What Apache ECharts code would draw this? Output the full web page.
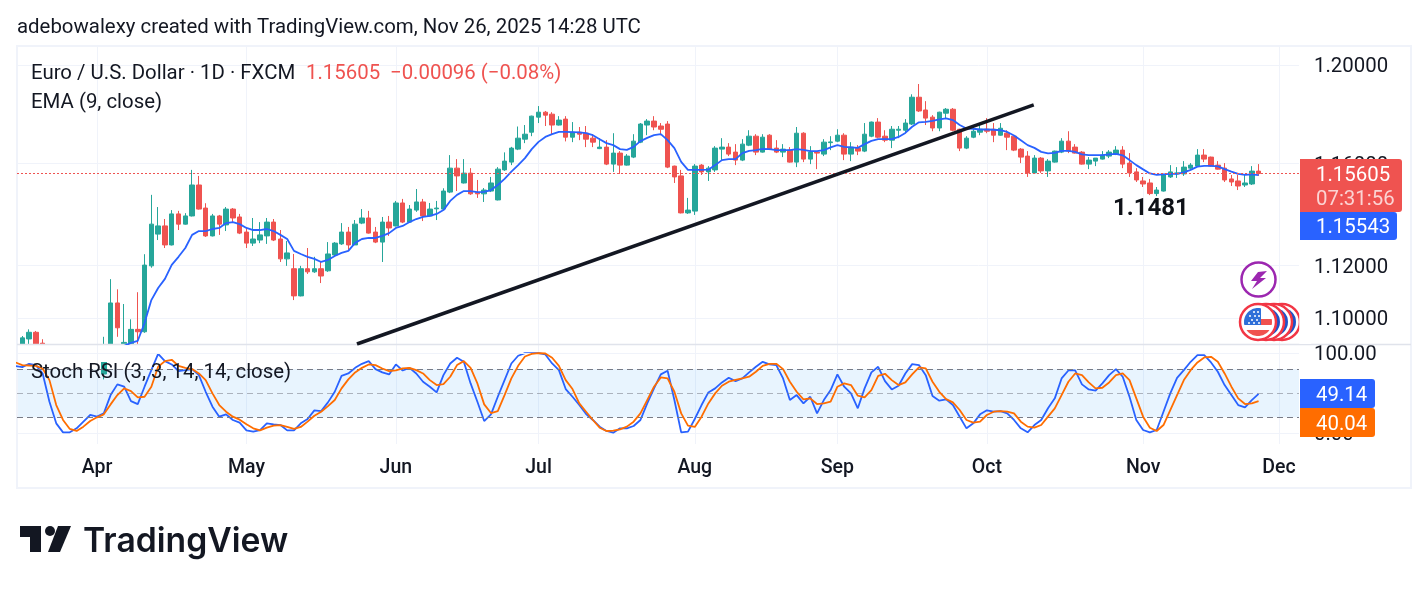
<!DOCTYPE html>
<html>
<head>
<meta charset="utf-8">
<title>EUR/USD daily</title>
<script src="https://cdn.jsdelivr.net/npm/echarts@6/dist/echarts.min.js"></script>
<style>
html,body{margin:0;padding:0;background:#fff}
#chart{width:1428px;height:591px}
</style>
</head>
<body>
<div id="chart"></div>
<script>
// Bar numbering: session 0 is 1 Apr 2025, sessions count weekdays.
const firstBar = -11;
const monthBars = [0, 22, 44, 65, 88, 109, 131, 154, 174];
const monthNames = ['Apr', 'May', 'Jun', 'Jul', 'Aug', 'Sep', 'Oct', 'Nov', 'Dec'];
const priceTicks = [1.1, 1.12, 1.16, 1.2];
const stochTicks = [0, 100];

// Daily sessions as [open, close, low, high].
const ohlc = [
[1.0880,1.0925,1.0870,1.0932],[1.0921,1.0946,1.0880,1.0957],[1.0946,1.0880,1.0872,1.0951],[1.0905,1.0895,1.0880,1.0920],
[1.0880,1.0825,1.0805,1.0890],[1.0825,1.0790,1.0775,1.0860],[1.0790,1.0800,1.0770,1.0810],[1.0800,1.0750,1.0740,1.0805],
[1.0750,1.0790,1.0735,1.0800],[1.0790,1.0825,1.0780,1.0830],[1.0825,1.0815,1.0790,1.0850],[1.0815,1.0790,1.0780,1.0880],
[1.0790,1.0850,1.0770,1.0929],[1.0851,1.1057,1.0842,1.1148],[1.1057,1.0963,1.0929,1.1109],[1.0880,1.0908,1.0842,1.1053],
[1.0898,1.0957,1.0880,1.0995],[1.0957,1.0948,1.0898,1.1098],[1.0948,1.1202,1.0944,1.1244],[1.1199,1.1361,1.1192,1.1476],
[1.1322,1.1354,1.1299,1.1428],[1.1354,1.1280,1.1268,1.1381],[1.1280,1.1401,1.1278,1.1416],[1.1401,1.1361,1.1338,1.1413],
[1.1361,1.1393,1.1359,1.1404],[1.1393,1.1515,1.1391,1.1575],[1.1515,1.1420,1.1418,1.1551],[1.1424,1.1315,1.1311,1.1443],
[1.1315,1.1393,1.1313,1.1401],[1.1393,1.1361,1.1319,1.1397],[1.1358,1.1420,1.1334,1.1428],[1.1420,1.1385,1.1369,1.1424],
[1.1389,1.1326,1.1322,1.1401],[1.1330,1.1287,1.1268,1.1346],[1.1287,1.1303,1.1276,1.1385],[1.1299,1.1319,1.1287,1.1369],
[1.1315,1.1369,1.1284,1.1385],[1.1369,1.1299,1.1295,1.1381],[1.1303,1.1226,1.1214,1.1338],[1.1226,1.1249,1.1199,1.1295],
[1.1188,1.1084,1.1068,1.1245],[1.1084,1.1188,1.1082,1.1199],[1.1188,1.1176,1.1168,1.1268],[1.1176,1.1188,1.1172,1.1234],
[1.1188,1.1160,1.1133,1.1218],[1.1180,1.1245,1.1176,1.1291],[1.1241,1.1287,1.1237,1.1291],[1.1284,1.1330,1.1280,1.1365],
[1.1330,1.1280,1.1261,1.1350],[1.1280,1.1361,1.1280,1.1377],[1.1365,1.1385,1.1361,1.1420],[1.1385,1.1326,1.1324,1.1413],
[1.1330,1.1291,1.1287,1.1350],[1.1291,1.1369,1.1214,1.1389],[1.1369,1.1346,1.1315,1.1393],[1.1354,1.1444,1.1352,1.1452],
[1.1444,1.1369,1.1365,1.1460],[1.1369,1.1420,1.1367,1.1436],[1.1416,1.1448,1.1409,1.1499],[1.1448,1.1393,1.1373,1.1460],
[1.1393,1.1420,1.1391,1.1444],[1.1421,1.1424,1.1377,1.1452],[1.1420,1.1491,1.1416,1.1502],[1.1487,1.1582,1.1483,1.1634],
[1.1582,1.1551,1.1491,1.1618],[1.1523,1.1562,1.1521,1.1618],[1.1562,1.1480,1.1476,1.1582],[1.1485,1.1480,1.1464,1.1535],
[1.1480,1.1495,1.1448,1.1503],[1.1491,1.1523,1.1487,1.1547],[1.1456,1.1578,1.1454,1.1586],[1.1575,1.1610,1.1571,1.1645],
[1.1606,1.1662,1.1594,1.1667],[1.1658,1.1702,1.1654,1.1749],[1.1698,1.1718,1.1682,1.1755],[1.1726,1.1791,1.1710,1.1793],
[1.1787,1.1807,1.1763,1.1832],[1.1807,1.1795,1.1751,1.1812],[1.1799,1.1755,1.1718,1.1807],[1.1755,1.1775,1.1753,1.1791],
[1.1779,1.1706,1.1689,1.1791],[1.1706,1.1726,1.1686,1.1767],[1.1726,1.1718,1.1694,1.1747],[1.1722,1.1698,1.1666,1.1751],
[1.1702,1.1686,1.1666,1.1718],[1.1660,1.1666,1.1658,1.1702],[1.1666,1.1598,1.1594,1.1694],[1.1598,1.1642,1.1567,1.1722],
[1.1642,1.1594,1.1559,1.1650],[1.1594,1.1630,1.1592,1.1638],[1.1626,1.1690,1.1622,1.1718],[1.1686,1.1759,1.1682,1.1763],
[1.1755,1.1771,1.1714,1.1779],[1.1771,1.1747,1.1734,1.1791],[1.1751,1.1738,1.1714,1.1763],[1.1759,1.1586,1.1582,1.1771],
[1.1590,1.1547,1.1523,1.1592],[1.1551,1.1405,1.1403,1.1575],[1.1405,1.1416,1.1401,1.1464],[1.1412,1.1590,1.1397,1.1598],
[1.1594,1.1567,1.1555,1.1598],[1.1567,1.1582,1.1531,1.1590],[1.1575,1.1662,1.1567,1.1670],[1.1658,1.1666,1.1614,1.1702],
[1.1666,1.1638,1.1630,1.1682],[1.1646,1.1614,1.1594,1.1678],[1.1614,1.1678,1.1610,1.1698],[1.1674,1.1710,1.1670,1.1734],
[1.1710,1.1646,1.1634,1.1718],[1.1646,1.1706,1.1644,1.1718],[1.1714,1.1658,1.1654,1.1718],[1.1662,1.1646,1.1642,1.1694],
[1.1646,1.1658,1.1626,1.1678],[1.1654,1.1606,1.1604,1.1666],[1.1606,1.1722,1.1586,1.1747],[1.1722,1.1618,1.1606,1.1726],
[1.1618,1.1646,1.1598,1.1670],[1.1646,1.1642,1.1578,1.1648],[1.1638,1.1686,1.1630,1.1698],[1.1684,1.1687,1.1654,1.1710],
[1.1690,1.1714,1.1686,1.1738],[1.1714,1.1638,1.1614,1.1722],[1.1638,1.1666,1.1610,1.1686],[1.1662,1.1650,1.1634,1.1674],
[1.1650,1.1718,1.1646,1.1763],[1.1710,1.1767,1.1706,1.1769],[1.1767,1.1706,1.1702,1.1783],[1.1710,1.1694,1.1686,1.1734],
[1.1694,1.1738,1.1662,1.1751],[1.1734,1.1738,1.1702,1.1751],[1.1734,1.1763,1.1726,1.1779],[1.1759,1.1868,1.1755,1.1880],
[1.1868,1.1812,1.1808,1.1922],[1.1816,1.1783,1.1755,1.1852],[1.1787,1.1743,1.1730,1.1795],[1.1743,1.1807,1.1730,1.1809],
[1.1803,1.1819,1.1783,1.1824],[1.1819,1.1734,1.1730,1.1824],[1.1738,1.1662,1.1650,1.1740],[1.1662,1.1702,1.1658,1.1710],
[1.1706,1.1730,1.1702,1.1755],[1.1726,1.1738,1.1714,1.1755],[1.1738,1.1730,1.1722,1.1783],[1.1738,1.1714,1.1686,1.1763],
[1.1714,1.1742,1.1712,1.1763],[1.1722,1.1706,1.1654,1.1734],[1.1710,1.1654,1.1650,1.1714],[1.1658,1.1626,1.1602,1.1662],
[1.1630,1.1563,1.1547,1.1650],[1.1563,1.1622,1.1559,1.1634],[1.1622,1.1571,1.1563,1.1626],[1.1571,1.1610,1.1547,1.1618],
[1.1606,1.1650,1.1604,1.1652],[1.1646,1.1690,1.1642,1.1702],[1.1690,1.1650,1.1642,1.1730],[1.1666,1.1642,1.1640,1.1678],
[1.1646,1.1598,1.1596,1.1650],[1.1598,1.1614,1.1578,1.1626],[1.1610,1.1622,1.1590,1.1622],[1.1618,1.1634,1.1616,1.1650],
[1.1630,1.1646,1.1622,1.1654],[1.1638,1.1654,1.1634,1.1670],[1.1654,1.1598,1.1582,1.1670],[1.1602,1.1563,1.1547,1.1642],
[1.1567,1.1535,1.1527,1.1582],[1.1531,1.1519,1.1507,1.1547],[1.1523,1.1481,1.1475,1.1539],[1.1481,1.1495,1.1471,1.1507],
[1.1491,1.1555,1.1489,1.1559],[1.1547,1.1567,1.1543,1.1594],[1.1559,1.1563,1.1543,1.1586],[1.1559,1.1586,1.1551,1.1610],
[1.1582,1.1594,1.1575,1.1602],[1.1590,1.1634,1.1588,1.1658],[1.1634,1.1618,1.1606,1.1658],[1.1626,1.1590,1.1588,1.1628],
[1.1594,1.1578,1.1576,1.1610],[1.1582,1.1535,1.1527,1.1602],[1.1539,1.1527,1.1511,1.1555],[1.1531,1.1511,1.1495,1.1555],
[1.1515,1.1523,1.1507,1.1555],[1.1519,1.15701,1.1515,1.1590],[1.15701,1.15605,1.1551,1.1598]
];

// 9-period EMA of the close, first plotted at session 4.
const emaFirstBar = 4;
const ema = [
1.0895,1.0906,1.0914,1.0981,1.1068,1.1114,1.1149,1.1203,1.1234,1.1268,1.1319,1.1334,1.1334,1.1342,1.1346,1.1365,
1.1369,1.1361,1.1346,1.1338,1.1338,1.1342,1.1334,1.1319,1.1303,1.1257,1.1245,1.1234,1.1226,1.1214,1.1222,1.1237,
1.1249,1.1257,1.1288,1.1303,1.1307,1.1307,1.1315,1.1326,1.1346,1.1354,1.1369,1.1381,1.1389,1.1393,1.1401,1.1416,
1.1452,1.1476,1.1491,1.1491,1.1487,1.1488,1.1495,1.1515,1.1539,1.1568,1.1594,1.1622,1.1658,1.1687,1.1707,1.1718,
1.1727,1.1727,1.1726,1.1725,1.1722,1.1714,1.1698,1.1682,1.1674,1.1658,1.1655,1.1667,1.1690,1.1703,1.1714,1.1718,
1.1694,1.1662,1.1607,1.1575,1.1575,1.1575,1.1576,1.1594,1.1614,1.1618,1.1618,1.1642,1.1651,1.1654,1.1659,1.1658,
1.1654,1.1654,1.1654,1.1658,1.1655,1.1650,1.1650,1.1654,1.1665,1.1674,1.1667,1.1665,1.1663,1.1678,1.1691,1.1698,
1.1698,1.1698,1.1707,1.1723,1.1748,1.1766,1.1768,1.1772,1.1778,1.1782,1.1775,1.1755,1.1741,1.1740,1.1737,1.1737,
1.1736,1.1734,1.1727,1.1713,1.1694,1.1674,1.1663,1.1647,1.1641,1.1643,1.1651,1.1651,1.1647,1.1637,1.1634,1.1634,
1.1634,1.1637,1.1639,1.1633,1.1614,1.1594,1.1577,1.1561,1.1555,1.1557,1.1559,1.1559,1.1565,1.1575,1.1588,1.1591,
1.1591,1.1589,1.1578,1.1568,1.1559,1.1555,1.1557,1.15543
];

// Stochastic RSI (3, 3, 14, 14), starting one session before the first candle.
const stochFirstBar = -12;
const stochK = [
83.7,82.5,86.6,85.0,74.6,39.4,12.5,1.3,1.3,6.3,14.6,22.9,20.8,24.9,47.7,61.0,58.1,40.2,36.5,58.1,78.7,99.0,89.9,85.8,
77.5,78.7,80.0,72.5,51.8,33.2,20.8,23.7,16.7,13.3,3.8,2.2,4.2,12.5,11.3,10.4,3.8,3.8,12.5,17.9,28.7,27.8,38.6,51.8,
71.7,74.6,81.6,86.6,89.9,80.0,75.9,73.4,85.8,78.3,81.6,74.6,64.3,58.1,51.0,72.5,87.0,94.1,89.1,62.2,39.4,15.4,23.7,45.6,
66.3,87.0,96.6,99.9,100,100,98.2,87.0,78.7,55.2,45.6,35.3,24.1,16.7,8.4,3.0,0.9,6.3,6.3,9.2,16.7,37.3,56.0,73.4,
77.9,41.5,1.3,2.2,17.9,35.3,51.0,56.0,63.4,69.2,65.1,68.4,75.9,82.9,89.1,85.8,85.0,68.4,41.5,47.7,37.3,45.6,24.9,41.5,
53.9,73.4,58.1,49.8,31.2,56.0,75.9,82.9,65.1,54.7,59.3,74.6,86.2,85.0,72.5,46.5,40.7,42.3,35.3,20.8,6.3,12.5,23.7,28.7,
27.0,27.8,24.9,16.7,6.3,1.3,10.4,16.7,31.2,43.6,68.4,78.3,78.3,61.0,54.7,53.1,62.2,72.5,80.0,70.5,45.6,16.7,4.2,1.3,
4.2,27.0,49.8,69.2,78.7,89.1,97.4,97.4,88.3,76.7,60.1,47.7,35.3,32.4,41.5,49.14
];
const stochD = [
88.3,85.0,84.5,84.1,80.8,66.3,35.3,16.7,5.5,3.0,8.4,15.4,20.0,23.7,36.1,47.7,56.0,52.7,44.8,45.6,58.1,82.9,89.9,91.6,
84.1,81.6,80.0,74.6,66.3,49.8,35.3,27.0,20.8,17.1,11.3,6.3,3.8,7.1,9.6,10.4,8.0,5.5,8.0,14.6,22.0,27.0,34.0,41.5,
56.0,67.2,75.9,81.6,85.8,85.0,80.8,77.5,78.3,80.8,81.6,78.7,74.6,66.3,60.1,61.4,70.5,85.0,89.9,81.6,62.2,36.1,25.3,27.8,
47.7,68.4,84.1,95.7,99.0,100,99.4,94.1,84.1,66.3,55.2,37.3,27.0,16.7,7.1,3.0,3.4,5.1,8.4,14.6,24.9,41.5,58.1,69.6,
68.4,51.8,24.9,9.6,8.0,20.8,37.3,49.8,59.3,64.3,66.7,68.4,70.5,76.7,84.1,86.6,86.6,80.0,64.3,51.8,42.3,43.6,36.5,37.3,
39.4,58.1,62.2,60.1,46.9,44.8,53.9,71.7,74.2,66.3,60.1,63.4,73.4,82.1,80.8,64.3,51.8,42.7,38.6,29.1,16.7,13.3,14.6,22.9,
27.0,27.8,27.0,24.9,14.6,8.4,7.1,10.4,20.8,31.2,47.7,64.3,74.6,72.5,63.4,56.0,56.8,63.4,72.5,74.6,66.3,43.6,20.8,7.1,
3.0,10.4,29.1,47.7,66.3,78.7,88.3,94.5,95.3,89.1,74.6,58.1,43.6,36.5,37.3,40.04
];

// Hand-drawn rising support line, as [session, price].
const trendLine = [[38.27, 1.0902], [137.9, 1.1837]];

const UP = '#26a69a', DOWN = '#ef5350', INK = '#131722', GRID = '#f0f3fa';
const BLUE = '#2962ff', ORANGE = '#ff6d00';
const FONT = 'Roboto, sans-serif';
const TEXT = '20.4px ' + FONT;

const indexed = (values, first) => values.map((v, k) => [first + k, v]);

const chart = echarts.init(document.getElementById('chart'), null, { renderer: 'canvas' });

const xCommon = {
  type: 'value', min: -11.777, max: 176.95,
  axisLine: { show: false },
  axisTick: { show: false, customValues: monthBars },
  splitLine: { show: true, lineStyle: { color: GRID, width: 1 } }
};
const yLabel = {
  show: true, margin: 15, align: 'left',
  rich: { v: { color: INK, fontFamily: FONT, fontSize: 20.4, padding: [4, 0, 0, 0] } }
};

function txt(x, y, text, fill, font) {
  return { type: 'text', z: 100, silent: true,
    style: { x, y, text, fill, font, verticalAlign: 'middle', align: 'left' } };
}
function box(x, y, w, h, fill, r, z) {
  return { type: 'rect', z: z || 99, silent: true, shape: { x, y, width: w, height: h, r: r || 0 }, style: { fill } };
}
function badge(cx, z) {
  return [
    { type: 'circle', z, silent: true, shape: { cx, cy: 322, r: 18 }, style: { fill: '#fff', stroke: '#f23645', lineWidth: 2.5 } },
    { type: 'circle', z, silent: true, shape: { cx, cy: 322, r: 14 }, style: { fill: '#1e53c8' } }
  ];
}
// Part of the flag disc that falls inside a rectangle.
function discPart(cx, cy, r, x0, x1, y0, y1, fill, z) {
  const points = [];
  for (let a = 0; a < 72; a++) {
    const t = a * Math.PI / 36;
    points.push([
      Math.min(x1, Math.max(x0, cx + r * Math.cos(t))),
      Math.min(y1, Math.max(y0, cy + r * Math.sin(t)))
    ]);
  }
  return { type: 'polygon', z, silent: true, shape: { points }, style: { fill } };
}
function star(cx, cy) {
  return { type: 'circle', z: 95, silent: true, shape: { cx, cy, r: 1 }, style: { fill: '#fff' } };
}

const ui = [
  txt(17, 28, 'adebowalexy created with TradingView.com, Nov 26, 2025 14:28 UTC', INK, TEXT),
  txt(31, 74, 'Euro / U.S. Dollar · 1D · FXCM', INK, TEXT),
  txt(306, 74, '1.15605', DOWN, TEXT),
  txt(390, 74, '−0.00096 (−0.08%)', DOWN, TEXT),
  txt(31, 103, 'EMA (9, close)', INK, TEXT),
  txt(31, 373, 'Stoch RSI (3, 3, 14, 14, close)', INK, TEXT),
  txt(1113, 209, '1.1481', '#0f1218', '700 24px ' + FONT),

  // Sessions below the price range end at the pane edge
  box(18, 345, 32, 13, '#fff', 0, 3.5),
  box(100, 345, 42, 17, '#fff', 0, 3.5),

  // Panel frame and pane separator
  { type: 'rect', z: 3.6, silent: true, shape: { x: 17, y: 46, width: 1394, height: 442 }, style: { fill: 'none', stroke: '#f0f3fa', lineWidth: 2 } },
  { type: 'line', z: 3.6, silent: true, shape: { x1: 17, y1: 344.5, x2: 1411, y2: 344.5 }, style: { stroke: '#e0e3eb', lineWidth: 1.5 } },

  // Events badge
  { type: 'circle', z: 90, silent: true, shape: { cx: 1258.5, cy: 279.5, r: 17 }, style: { fill: '#fff', stroke: '#9c27b0', lineWidth: 2.5 } },
  { type: 'polygon', z: 91, silent: true, shape: { points: [[1267, 271], [1258, 272], [1251, 281], [1257, 281], [1252, 289], [1266, 278], [1260, 278]] }, style: { fill: '#9c27b0' } },

  // Currency event badges, back to front
  ...badge(1282, 90), ...badge(1274, 91), ...badge(1266, 92),
  { type: 'circle', z: 93, silent: true, shape: { cx: 1258, cy: 322, r: 18 }, style: { fill: '#fff', stroke: '#f23645', lineWidth: 2.5 } },
  discPart(1258, 322, 14, 1240, 1261, 300, 325, '#2e6fd8', 94),
  discPart(1258, 322, 14, 1261, 1280, 319, 325, '#f0524f', 94),
  discPart(1258, 322, 14, 1240, 1280, 330, 345, '#f0524f', 94),
  star(1250, 316), star(1255, 316), star(1259, 316), star(1252, 320), star(1257, 320),
  star(1249, 323), star(1254, 323), star(1259, 323), star(1254, 312), star(1258, 312),
  box(1299.2, 300, 12, 44, '#fff'),

  // Last-value tags
  box(1300, 159, 102, 53, DOWN, [0, 3, 3, 0]),
  txt(1316, 176, '1.15605', '#fff', TEXT),
  txt(1316, 200, '07:31:56', 'rgba(255,255,255,0.75)', TEXT),
  box(1300, 212, 97, 28, BLUE, [0, 3, 3, 0]),
  txt(1316, 228, '1.15543', '#fff', TEXT),
  box(1300, 379, 75, 29, BLUE, [0, 3, 3, 0]),
  txt(1316, 396, '49.14', '#fff', TEXT),
  box(1300, 408, 75, 29, ORANGE, [0, 3, 3, 0]),
  txt(1316, 425, '40.04', '#fff', TEXT),

  // Wordmark
  { type: 'polygon', z: 100, silent: true, shape: { points: [[20, 526], [41, 526], [41, 552], [30, 552], [30, 537], [20, 537]] }, style: { fill: INK } },
  { type: 'circle', z: 100, silent: true, shape: { cx: 50, cy: 531, r: 5 }, style: { fill: INK } },
  { type: 'polygon', z: 100, silent: true, shape: { points: [[58, 526], [71, 526], [60, 552], [48, 552]] }, style: { fill: INK } },
  txt(83, 542, 'TradingView', INK, '600 33.7px Inter, Roboto, sans-serif')
];

chart.setOption({
  animation: false,
  textStyle: { fontFamily: FONT },
  graphic: { elements: ui },
  grid: [
    { left: 17, width: 1282, top: 46, height: 298 },
    { left: 17, width: 1282, top: 345, height: 99 }
  ],
  xAxis: [
    Object.assign({ gridIndex: 0, axisLabel: { show: false } }, xCommon),
    Object.assign({ gridIndex: 1, axisLabel: {
      show: true, customValues: monthBars, color: INK, fontFamily: FONT, fontSize: 19.5, fontWeight: 500, margin: 14,
      formatter: v => monthNames[monthBars.indexOf(v)] } }, xCommon)
  ],
  yAxis: [
    { type: 'log', gridIndex: 0, position: 'right', min: 1.0902, max: 1.2079,
      axisLine: { show: false },
      axisTick: { show: false, customValues: priceTicks },
      axisLabel: Object.assign({ customValues: priceTicks, formatter: v => '{v|' + Number(v).toFixed(5) + '}' }, yLabel),
      splitLine: { show: true, lineStyle: { color: GRID, width: 1 } } },
    { type: 'value', gridIndex: 1, position: 'right', min: -13.2, max: 110,
      axisLine: { show: false },
      axisTick: { show: false, customValues: stochTicks },
      axisLabel: Object.assign({ customValues: stochTicks, formatter: v => '{v|' + Number(v).toFixed(2) + '}' }, yLabel),
      splitLine: { show: true, lineStyle: { color: GRID, width: 1 } } }
  ],
  series: [
    { type: 'candlestick', xAxisIndex: 0, yAxisIndex: 0, barWidth: 5, clip: true, z: 3,
      data: ohlc.map((row, k) => [firstBar + k, row[0], row[1], row[2], row[3]]),
      encode: { x: 0, y: [1, 2, 3, 4] },
      itemStyle: { color: UP, color0: DOWN, borderColor: UP, borderColor0: DOWN, borderWidth: 1 } },
    { type: 'line', name: 'EMA', xAxisIndex: 0, yAxisIndex: 0, showSymbol: false, clip: true, z: 4,
      data: indexed(ema, emaFirstBar), lineStyle: { color: BLUE, width: 1.8 },
      markLine: { silent: true, symbol: 'none', precision: 5, label: { show: false },
        data: [{ yAxis: 1.15605, lineStyle: { color: DOWN, type: [2, 2], width: 1 } }] } },
    { type: 'line', name: 'Trend', xAxisIndex: 0, yAxisIndex: 0, showSymbol: false, clip: true, z: 5,
      data: trendLine, lineStyle: { color: INK, width: 3.5 } },
    { type: 'line', name: 'K', xAxisIndex: 1, yAxisIndex: 1, showSymbol: false, clip: true, z: 4,
      data: indexed(stochK, stochFirstBar), lineStyle: { color: BLUE, width: 1.8 },
      markArea: { silent: true, itemStyle: { color: 'rgba(33,150,243,0.1)' },
        data: [[{ yAxis: 80 }, { yAxis: 20 }]] },
      markLine: { silent: true, symbol: 'none', label: { show: false },
        data: [
          { yAxis: 100, lineStyle: { color: GRID, type: 'solid', width: 1 } },
          { yAxis: 80, lineStyle: { color: '#787b86', type: [6, 4], width: 1 } },
          { yAxis: 50, lineStyle: { color: 'rgba(120,123,134,0.55)', type: [6, 4], width: 1 } },
          { yAxis: 20, lineStyle: { color: '#787b86', type: [6, 4], width: 1 } }
        ] } },
    { type: 'line', name: 'D', xAxisIndex: 1, yAxisIndex: 1, showSymbol: false, clip: true, z: 5,
      data: indexed(stochD, stochFirstBar), lineStyle: { color: ORANGE, width: 1.8 } }
  ]
});
</script>
</body>
</html>
